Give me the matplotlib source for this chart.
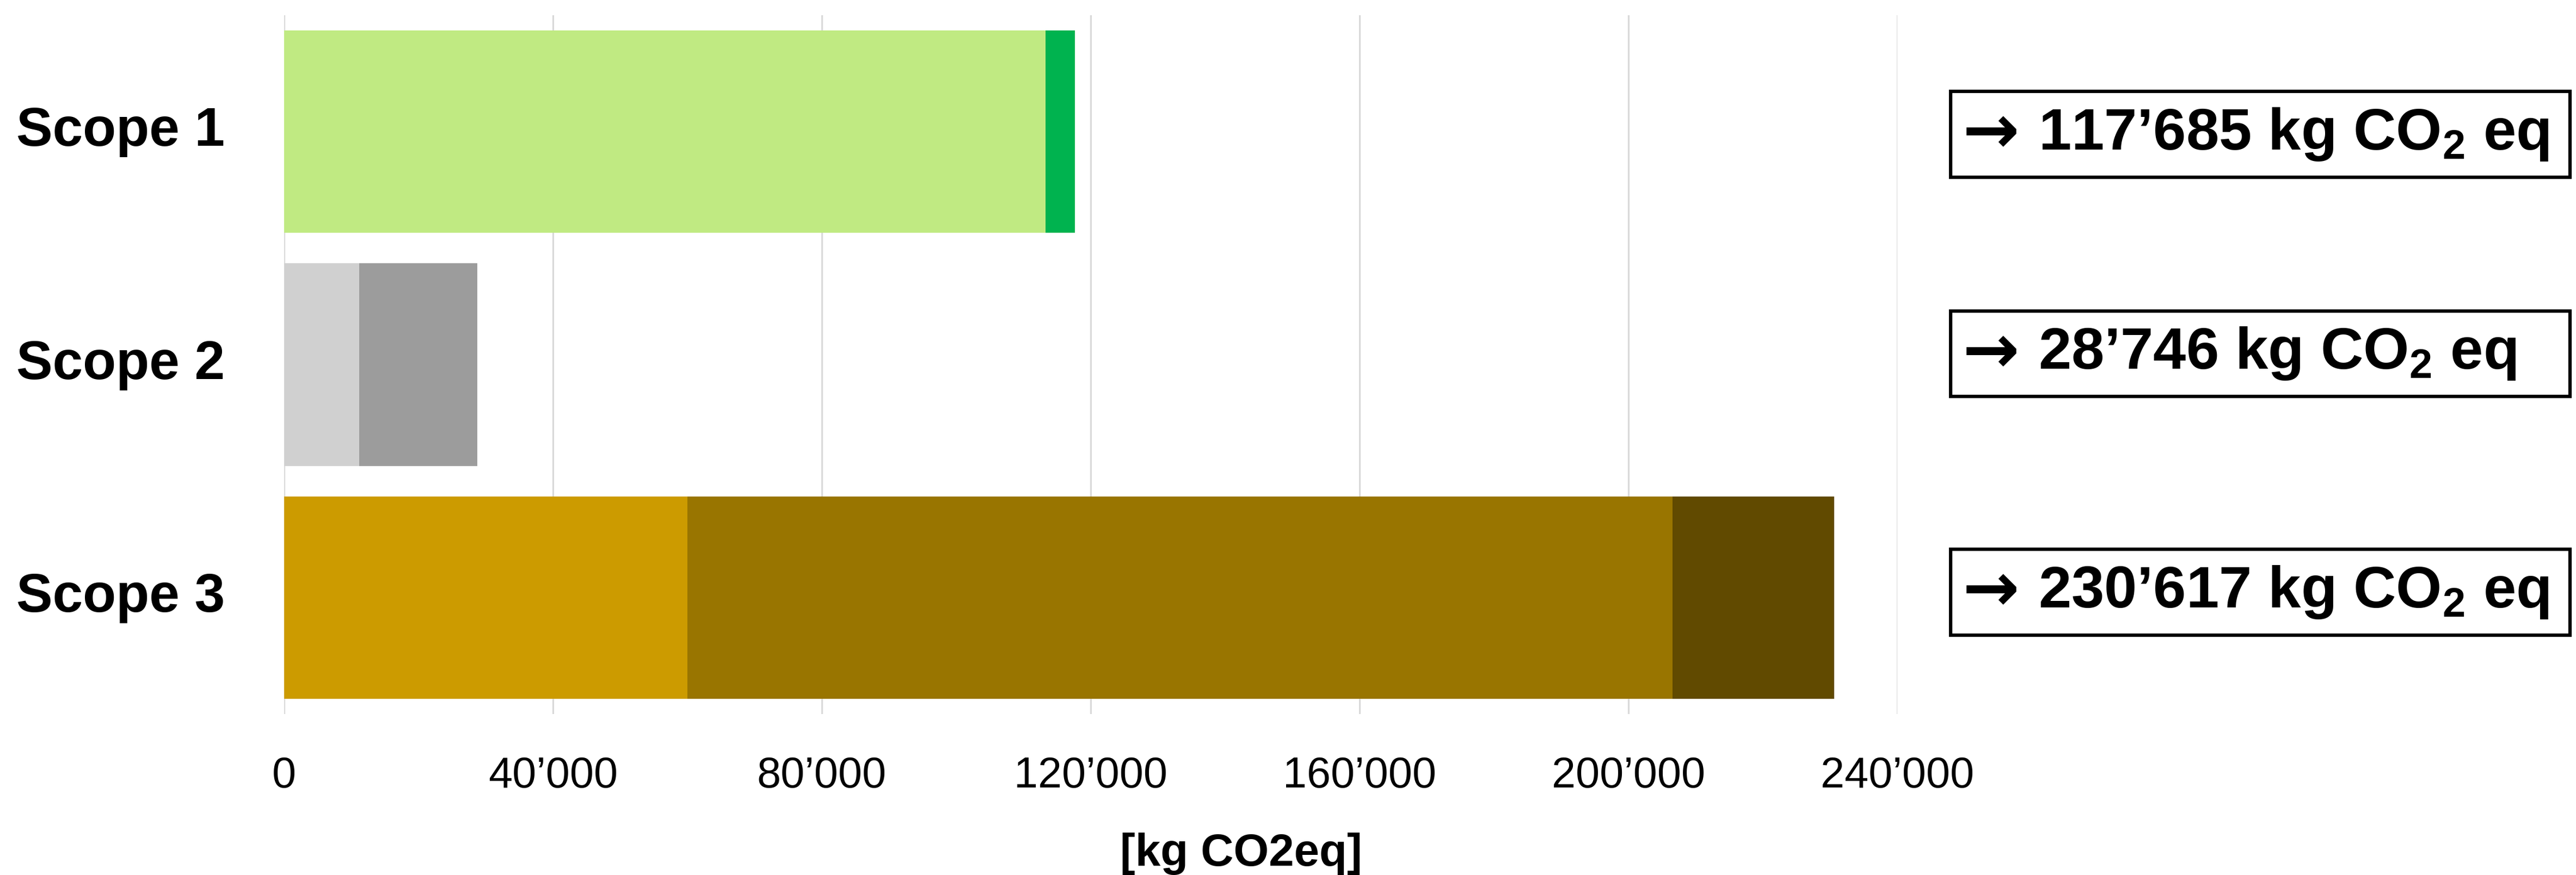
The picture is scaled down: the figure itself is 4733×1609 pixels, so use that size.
import matplotlib
matplotlib.use("Agg")
import matplotlib.pyplot as plt
from matplotlib.patches import Rectangle
import matplotlib.transforms as mtransforms

# ---- data ----
categories = ["Scope 1", "Scope 2", "Scope 3"]
scope1_parts = [113300, 4385]
scope2_parts = [11200, 17546]
scope3_parts = [60000, 146560, 24057]
scope1_colors = ["#C0EA82", "#00B34F"]
scope2_colors = ["#D0D0D0", "#9C9C9C"]
scope3_colors = ["#CC9B00", "#997500", "#614A00"]
totals = [117685, 28746, 230617]
xticks = [0, 40000, 80000, 120000, 160000, 200000, 240000]
xtick_labels = ["0", "40’000", "80’000", "120’000", "160’000", "200’000", "240’000"]
xlabel = "[kg CO2eq]"

plt.rcParams['font.family'] = ['Liberation Sans', 'DejaVu Sans']
plt.rcParams['mathtext.fontset'] = 'custom'
plt.rcParams['mathtext.bf'] = 'Liberation Sans:bold'
plt.rcParams['mathtext.rm'] = 'Liberation Sans:bold'
plt.rcParams['mathtext.default'] = 'bf'

W, H = 4733, 1609
DPI = 300
fig = plt.figure(figsize=(W / DPI, H / DPI), dpi=DPI)

def fx(px):
    return px / W

def fy(py):
    return 1 - py / H

ax_left, ax_right, ax_top, ax_bottom = 522, 3486, 28, 1313
ax = fig.add_axes([fx(ax_left), fy(ax_bottom), (ax_right - ax_left) / W, (ax_bottom - ax_top) / H])

parts_all = [scope1_parts, scope2_parts, scope3_parts]
colors_all = [scope1_colors, scope2_colors, scope3_colors]
bar_h = 0.87
for i, (parts, cols) in enumerate(zip(parts_all, colors_all)):
    left = 0
    for v, c in zip(parts, cols):
        ax.barh(i, v, left=left, height=bar_h, color=c, edgecolor='none', zorder=2)
        left += v

ax.set_xlim(0, 240000)
ax.set_ylim(2.5, -0.5)
ax.set_xticks(xticks)
ax.set_xticklabels(xtick_labels, fontsize=19)
ax.set_yticks([])
ax.tick_params(axis='x', length=0, pad=18.5)
ax.grid(axis='x', color='#D9D9D9', linewidth=0.75, zorder=0)
ax.set_axisbelow(True)
for s in ax.spines.values():
    s.set_visible(False)

# category labels
trans = mtransforms.blended_transform_factory(fig.transFigure, ax.transData)
for i, cat in enumerate(categories):
    ax.text(fx(30), i, cat, transform=trans, ha='left', va='center',
            fontsize=24, fontweight='bold', color='black')

# x label
fig.text(fx(2280), fy(1592), xlabel, ha='center', va='baseline',
         fontsize=20, fontweight='bold')

# total boxes
boxes = [(168, 326), (572, 729), (1010, 1168)]
box_l, box_r = 3584, 4722
for (top, bot), tot in zip(boxes, totals):
    rect = Rectangle((fx(box_l), fy(bot)), (box_r - box_l) / W, (bot - top) / H,
                     transform=fig.transFigure, fill=False, edgecolor='black',
                     linewidth=1.5)
    fig.add_artist(rect)
    yc = fy((top + bot) / 2)
    fig.text(fx(3606), yc, "→", ha='left', va='center', fontsize=30,
             family='DejaVu Sans', fontweight='bold')
    num = f"{tot:,}".replace(",", "’")
    fig.text(fx(3745), yc, num + " kg CO$_2$ eq",
             ha='left', va='center', fontsize=26, fontweight='bold')

fig.savefig("out.png", dpi=DPI, facecolor='white')
